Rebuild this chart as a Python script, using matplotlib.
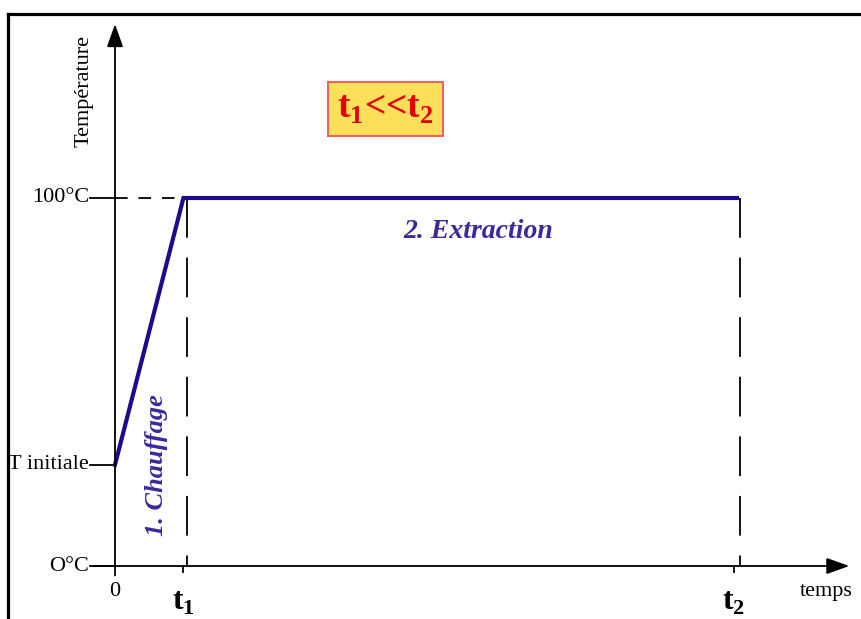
import matplotlib.pyplot as plt
from matplotlib.lines import Line2D

plt.rcParams['font.family'] = 'Liberation Serif'
plt.rcParams['mathtext.fontset'] = 'custom'
plt.rcParams['mathtext.rm'] = 'Liberation Serif'
plt.rcParams['mathtext.bf'] = 'Liberation Serif:bold'

# schematic values (time in arbitrary units, temperature in degC)
t1 = 1.1
t2 = 10.0
T_init = 27.5
T_ext = 100.0
curve_t = [0, t1, t2]
curve_T = [T_init, T_ext, T_ext]
ylabels = ['100°C', 'T initiale', 'O°C']
yvals = [T_ext, T_init, 0]

curve_col = '#1c0c8c'
text_col = '#3a2a9a'

fig = plt.figure(figsize=(8.62, 6.19), dpi=100)
ax = fig.add_axes([0, 0, 1, 1])
ax.set_xlim(-1.849, 12.01)
ax.set_ylim(-14.4, 153.8)
ax.axis('off')

# frame
fig.add_artist(Line2D([8/862, 1], [1-14/619, 1-14/619], color='black', lw=2.3))
fig.add_artist(Line2D([8/862, 8/862], [0, 1-14/619], color='black', lw=2.3))

# axes with arrows
ax.annotate('', xy=(11.85, 0), xytext=(-0.4, 0),
            arrowprops=dict(arrowstyle='-|>,head_length=1.4,head_width=0.5', color='black', lw=1.3))
ax.annotate('', xy=(0, 148), xytext=(0, -3.3),
            arrowprops=dict(arrowstyle='-|>,head_length=1.4,head_width=0.5', color='black', lw=1.3))

# label ticks on y
for v, lab in zip(yvals, ylabels):
    ax.plot([-0.4, 0], [v, v], color='black', lw=1.3)
    ax.text(-0.42, v, lab, ha='right', va='center', fontsize=16)

# ticks on x
for tv in [t1, t2 - 0.05]:
    ax.plot([tv, tv], [0, -1.5], color='black', lw=1.3)

# dashed guides
ax.plot([0, t1], [T_ext, T_ext], color='black', lw=1.3, dashes=(7, 6))
ax.plot([t1 + 0.05, t1 + 0.05], [T_ext, 0], color='black', lw=1.3, dashes=(22, 11))
ax.plot([t2 + 0.05, t2 + 0.05], [T_ext, 0], color='black', lw=1.3, dashes=(22, 11))

# temperature curve
ax.plot(curve_t, curve_T, color=curve_col, lw=3, solid_joinstyle='miter')

# texts
ax.text(-0.5, 129, 'Température', rotation=90, ha='center', va='center', fontsize=16)
ax.text(0, -7, '0', ha='center', va='center', fontsize=16)
ax.text(11.43, -7, 'temps', ha='center', va='center', fontsize=16)
ax.text(t1, -9.8, 't$_{\\mathbf{1}}$', ha='center', va='center', fontsize=23, fontweight='bold')
ax.text(t2 - 0.05, -9.8, 't$_{\\mathbf{2}}$', ha='center', va='center', fontsize=23, fontweight='bold')
ax.text(5.84, 90.8, '2. Extraction', ha='center', va='center', fontsize=20,
        fontweight='bold', style='italic', color=text_col)
ax.text(0.66, 27.4, '1. Chauffage', rotation=90, ha='center', va='center', fontsize=19,
        fontweight='bold', style='italic', color=text_col)
ax.text(4.35, 124.2, 't$_{\\mathbf{1}}$<<t$_{\\mathbf{2}}$', ha='center', va='center', fontsize=27,
        fontweight='bold', color='#e00000',
        bbox=dict(boxstyle='square,pad=0.25', facecolor='#fde05a', edgecolor='#f06060', lw=1.5))

fig.savefig('out.png', dpi=100)
